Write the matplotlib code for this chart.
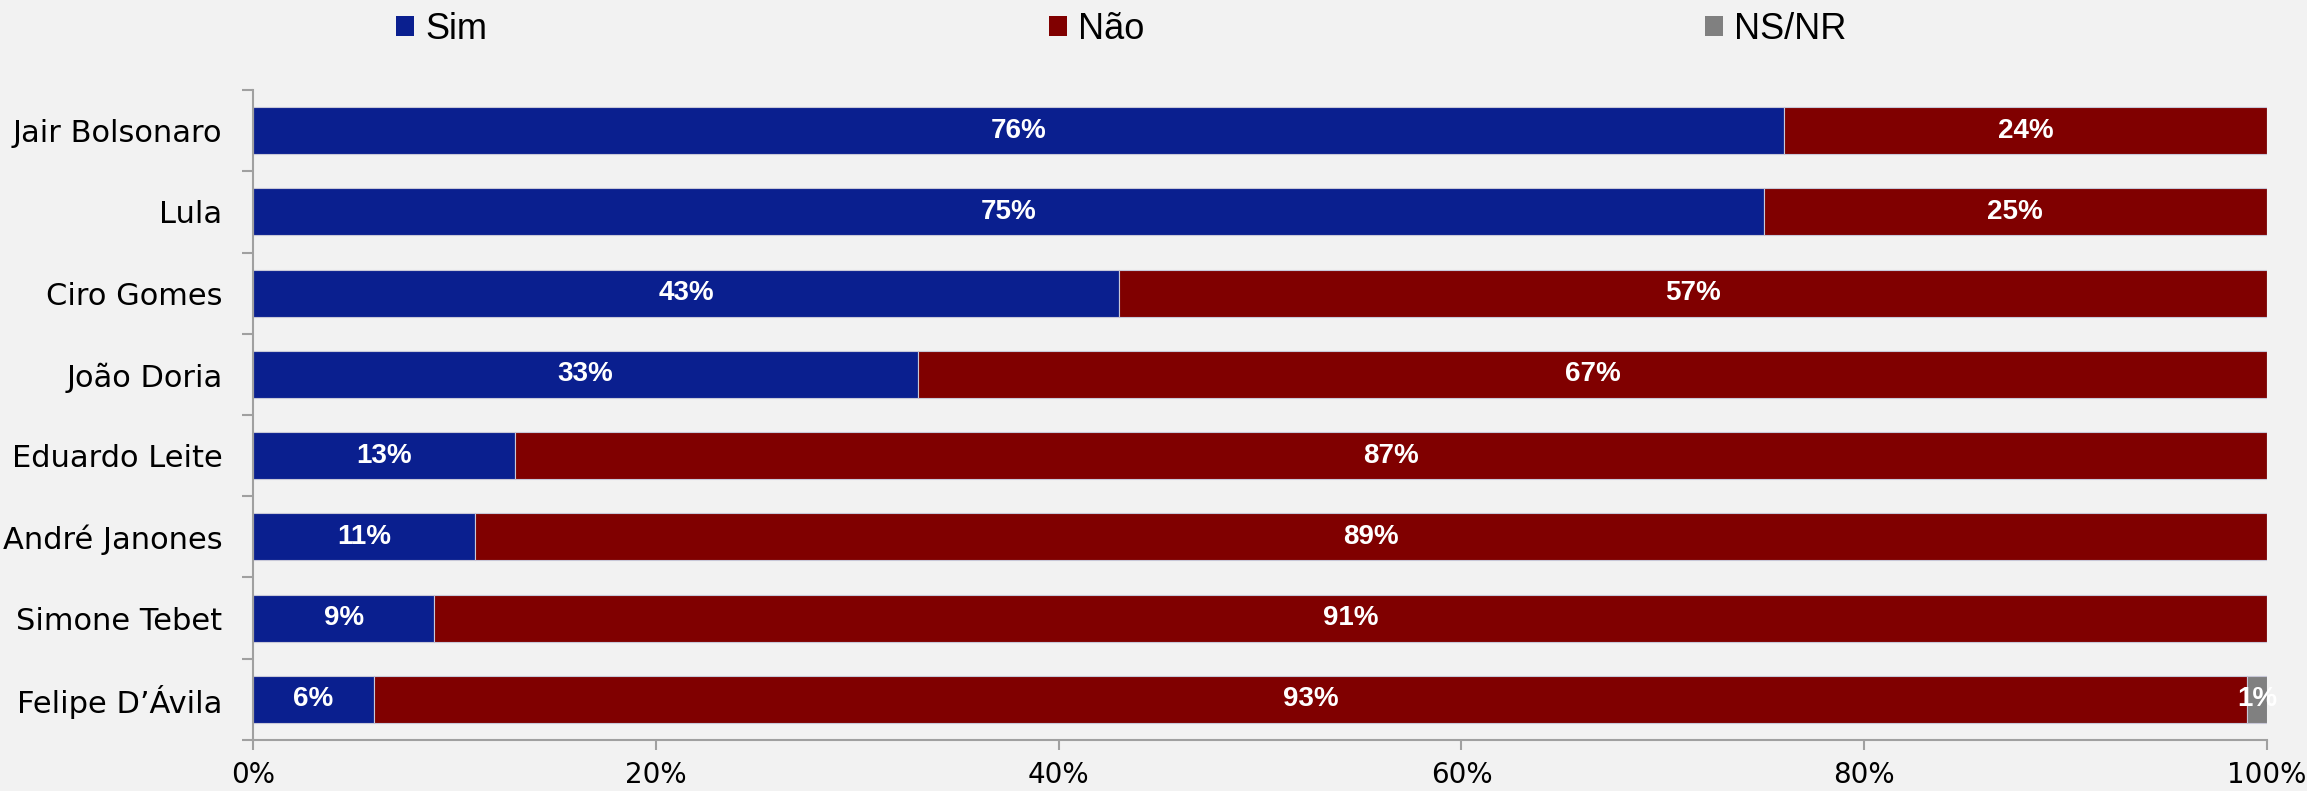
import matplotlib.pyplot as plt
import numpy as np
from matplotlib.patches import Patch
from matplotlib.ticker import FixedLocator, PercentFormatter

# data
candidates = ['Jair Bolsonaro', 'Lula', 'Ciro Gomes', 'João Doria',
              'Eduardo Leite', 'André Janones', 'Simone Tebet', 'Felipe D’Ávila']
sim = [76, 75, 43, 33, 13, 11, 9, 6]
nao = [24, 25, 57, 67, 87, 89, 91, 93]
nsnr = [0, 0, 0, 0, 0, 0, 0, 1]
series_names = ['Sim', 'Não', 'NS/NR']

colors = ['#0A1F8F', '#800000', '#808080']
bg = '#F2F2F2'
spine_col = '#A0A0A0'

fig = plt.figure(figsize=(23.07, 7.91), dpi=100, facecolor=bg)
ax = fig.add_axes([0.1097, 0.0645, 0.9827 - 0.1097, 0.8862 - 0.0645])
ax.set_facecolor(bg)

y = np.arange(len(candidates))
left = np.zeros(len(candidates))
for vals, col in zip([sim, nao, nsnr], colors):
    vals = np.array(vals, dtype=float)
    bars = ax.barh(y, vals, left=left, height=0.58, color=col,
                   edgecolor='#C8C8D8', linewidth=0.8)
    for b, v in zip(bars, vals):
        if v > 0:
            ax.text(b.get_x() + b.get_width() / 2, b.get_y() + b.get_height() / 2,
                    f'{v:.0f}%', ha='center', va='center', color='white',
                    fontsize=20, fontweight='bold', family='Liberation Sans')
    left += vals

ax.set_xlim(0, 100)
ax.set_ylim(len(candidates) - 0.5, -0.5)

# x axis
ax.xaxis.set_major_locator(FixedLocator([0, 20, 40, 60, 80, 100]))
ax.xaxis.set_major_formatter(PercentFormatter(decimals=0))
ax.tick_params(axis='x', length=7, width=1.5, color=spine_col, pad=8,
               labelsize=20, labelcolor='black')

# y axis: labels at centers, tick marks at band edges
ax.set_yticks(y)
ax.set_yticklabels(candidates)
ax.yaxis.set_minor_locator(FixedLocator(np.arange(-0.5, len(candidates), 1)))
ax.tick_params(axis='y', which='major', length=0, pad=22, labelsize=22)
ax.tick_params(axis='y', which='minor', length=8, width=1.5, color=spine_col)

for s in ['top', 'right']:
    ax.spines[s].set_visible(False)
for s in ['left', 'bottom']:
    ax.spines[s].set_color(spine_col)
    ax.spines[s].set_linewidth(1.5)

handles = [Patch(facecolor=c, edgecolor='none') for c in colors]
fig.legend(handles, series_names, loc='center', bbox_to_anchor=(0.4861, 0.963),
           ncol=3, frameon=False, prop={'family': 'Liberation Sans', 'size': 26},
           handlelength=0.5, handleheight=0.5, handletextpad=0.3,
           columnspacing=15.55)

fig.savefig('out.png', dpi=100, facecolor=bg)
